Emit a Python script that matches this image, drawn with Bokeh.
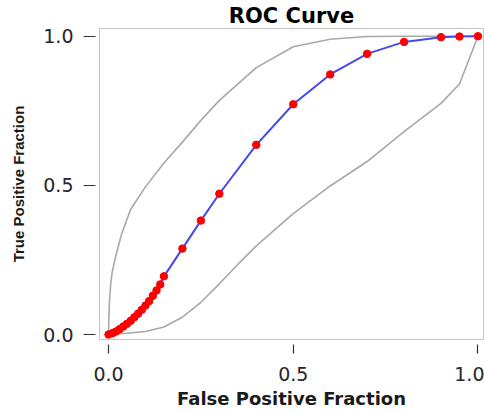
from bokeh.plotting import figure
from bokeh.models import Range1d, FixedTicker, NumeralTickFormatter
from bokeh.embed import file_html
from bokeh.resources import INLINE

# ROC curve (empirical points)
roc_fpf = [0.00, 0.01, 0.02, 0.03, 0.04, 0.05, 0.06, 0.07, 0.08, 0.09, 0.10,
           0.11, 0.12, 0.13, 0.14, 0.15, 0.20, 0.25, 0.30, 0.40, 0.50, 0.60,
           0.70, 0.80, 0.90, 0.95, 1.00]
roc_tpf = [0.000, 0.004, 0.010, 0.018, 0.027, 0.036, 0.046, 0.058, 0.070, 0.083, 0.097,
           0.112, 0.130, 0.148, 0.168, 0.195, 0.288, 0.382, 0.472, 0.636, 0.772, 0.872,
           0.941, 0.981, 0.997, 0.999, 1.000]

# Upper confidence bound
upper_fpf = [0.000, 0.001, 0.003, 0.006, 0.010, 0.020, 0.035, 0.060, 0.100, 0.150,
             0.200, 0.250, 0.300, 0.400, 0.500, 0.600, 0.700, 0.800, 0.900, 1.000]
upper_tpf = [0.000, 0.060, 0.120, 0.170, 0.210, 0.265, 0.335, 0.420, 0.495, 0.575,
             0.645, 0.718, 0.785, 0.895, 0.965, 0.990, 0.999, 1.000, 1.000, 1.000]

# Lower confidence bound
lower_fpf = [0.00, 0.05, 0.10, 0.15, 0.20, 0.25, 0.30, 0.35, 0.40, 0.50,
             0.60, 0.70, 0.80, 0.90, 0.95, 1.00]
lower_tpf = [0.000, 0.004, 0.010, 0.025, 0.058, 0.108, 0.170, 0.235, 0.297, 0.405,
             0.498, 0.580, 0.680, 0.775, 0.840, 1.000]

tick_values = [0.0, 0.5, 1.0]

p = figure(width=484, height=413, output_backend="svg", toolbar_location=None,
           title="ROC Curve",
           x_range=Range1d(-0.0244, 1.015), y_range=Range1d(-0.0167, 1.026),
           min_border_left=99, min_border_right=1, min_border_top=27,
           min_border_bottom=74)
p.grid.visible = False
p.outline_line_color = "#c4c4c4"
p.outline_line_width = 1
p.background_fill_color = "white"
p.border_fill_color = "white"

p.title.align = "center"
p.title.text_font = "DejaVu Sans"
p.title.text_font_style = "bold"
p.title.text_font_size = "21px"
p.title.text_color = "black"
p.title.standoff = 2

for ax in (p.xaxis[0], p.yaxis[0]):
    ax.ticker = FixedTicker(ticks=tick_values)
    ax.formatter = NumeralTickFormatter(format="0.0")
    ax.axis_line_color = None
    ax.minor_tick_line_color = None
    ax.major_tick_line_color = "#333333"
    ax.major_tick_line_width = 1.2
    ax.major_label_text_font = "DejaVu Sans"
    ax.major_label_text_font_size = "19px"
    ax.major_label_text_color = "#262626"
    ax.axis_label_text_font_style = "bold"
    ax.axis_label_text_color = "#1a1a1a"

p.xaxis.major_tick_in = -5
p.xaxis.major_tick_out = 14
p.xaxis.major_label_standoff = 13
p.xaxis.axis_label = "False Positive Fraction"
p.xaxis.axis_label_text_font = "DejaVu Sans"
p.xaxis.axis_label_text_font_size = "18px"
p.xaxis.axis_label_standoff = 4

p.yaxis.major_tick_in = -4
p.yaxis.major_tick_out = 16
p.yaxis.major_label_standoff = 10
p.yaxis.axis_label = "True Positive Fraction"
p.yaxis.axis_label_text_font = "Liberation Sans"
p.yaxis.axis_label_text_font_size = "15px"
p.yaxis.axis_label_standoff = 13

p.line(upper_fpf, upper_tpf, line_color="#a8a8a8", line_width=1.6)
p.line(lower_fpf, lower_tpf, line_color="#a8a8a8", line_width=1.6)
p.line(roc_fpf, roc_tpf, line_color="#4848f0", line_width=2)
p.scatter(roc_fpf, roc_tpf, size=7.5, fill_color="#ff0000", line_color="#ff0000")

open("out.html", "w").write(file_html(p, INLINE))
